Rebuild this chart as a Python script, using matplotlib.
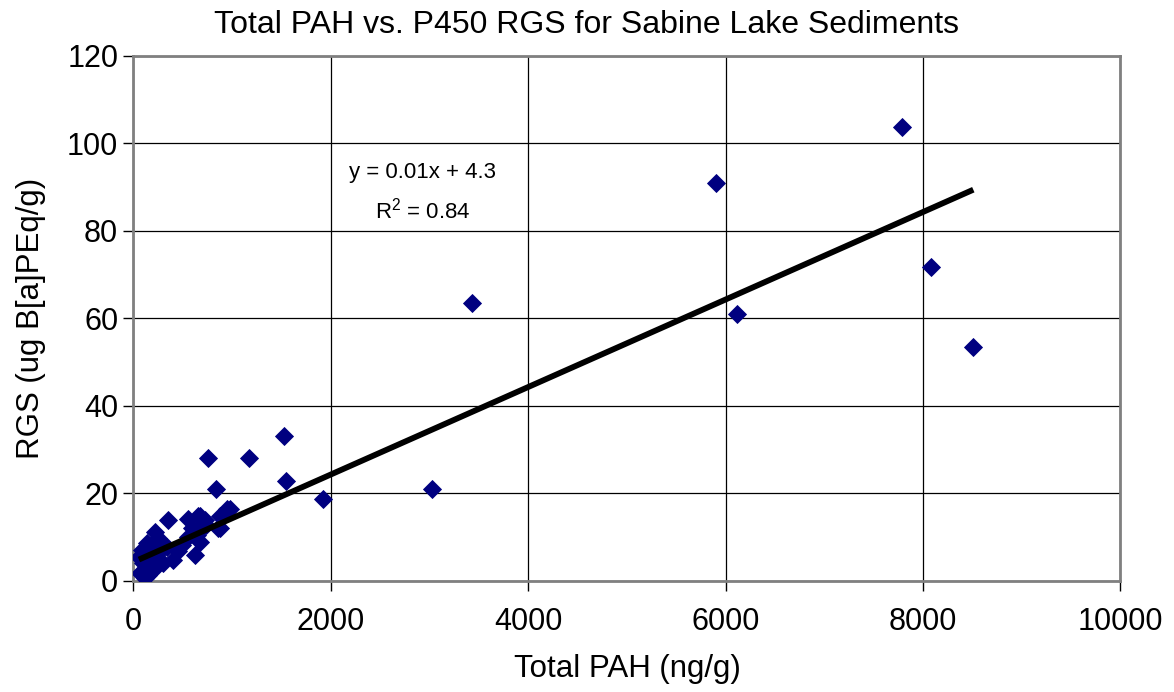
import numpy as np
import matplotlib.pyplot as plt

plt.rcParams['font.family'] = ['Liberation Sans', 'DejaVu Sans']

# Total PAH (ng/g) vs. RGS (ug B[a]PEq/g)
total_pah = [
    7790, 5900, 8077, 8509, 3430, 6118, 3021, 1923, 1525, 1545,
    758, 1170, 836, 978, 910, 724, 860, 674,
    353, 555, 657, 735, 950, 876, 876, 623, 555, 674,
    218, 251, 134, 83, 55, 66, 117, 201, 302, 403,
    454, 488, 201, 268, 336, 167, 100, 150, 589, 691, 640,
]
rgs = [
    103.7, 91.0, 71.7, 53.5, 63.4, 61.0, 20.9, 18.7, 33.1, 22.9,
    28.1, 28.1, 20.9, 16.3, 15.0, 13.9, 12.0, 14.7,
    13.9, 14.1, 14.7, 12.8, 16.3, 14.7, 12.0, 5.9, 10.1, 8.9,
    11.2, 9.7, 8.6, 7.0, 5.5, 1.7, 0.6, 2.5, 4.0, 4.8,
    6.7, 8.2, 5.5, 6.7, 7.8, 7.8, 4.0, 1.3, 12.0, 12.4, 10.5,
]

# trend line as labelled on the chart
slope = 0.01
intercept = 4.3
r_squared = 0.84

x_ticks = [0, 2000, 4000, 6000, 8000, 10000]
y_ticks = [0, 20, 40, 60, 80, 100, 120]

fig = plt.figure(figsize=(11.74, 6.92), dpi=100)
ax = fig.add_axes([0.1137, 0.1607, 0.8407, 0.7587])

x = np.array(total_pah)
xs = np.array([x.min(), x.max()])
ax.plot(total_pah, rgs, ls='none', marker='D', ms=9, color='#000080',
        mec='#000080', mew=0.6, zorder=3)
# Excel draws the trendline over the markers
ax.plot(xs, slope * xs + intercept, color='black', lw=4.2, zorder=4,
        solid_capstyle='butt')

ax.text(2933, 93.4, 'y = 0.01x + 4.3', ha='center', va='center', fontsize=16)
ax.text(2933, 84.7, '$\\mathregular{R^2}$ = %.2f' % r_squared, ha='center',
        va='center', fontsize=16)

ax.set_xlim(0, 10000)
ax.set_ylim(0, 120)
ax.set_xticks(x_ticks)
ax.set_yticks(y_ticks)
ax.grid(True, color='black', lw=0.9)
ax.set_axisbelow(True)
for s in ax.spines.values():
    s.set_color('#808080')
    s.set_linewidth(2)
ax.tick_params(direction='out', length=7, width=1, color='black',
               labelsize=22)
ax.tick_params(axis='x', pad=12)
ax.tick_params(axis='y', pad=4)

ax.set_xlabel('Total PAH (ng/g)', fontsize=22.5, labelpad=12)
ax.set_ylabel('RGS (ug B[a]PEq/g)', fontsize=22.5, labelpad=15)
fig.suptitle('Total PAH vs. P450 RGS for Sabine Lake Sediments', fontsize=23,
             y=0.985)

fig.savefig('out.png', dpi=100)
